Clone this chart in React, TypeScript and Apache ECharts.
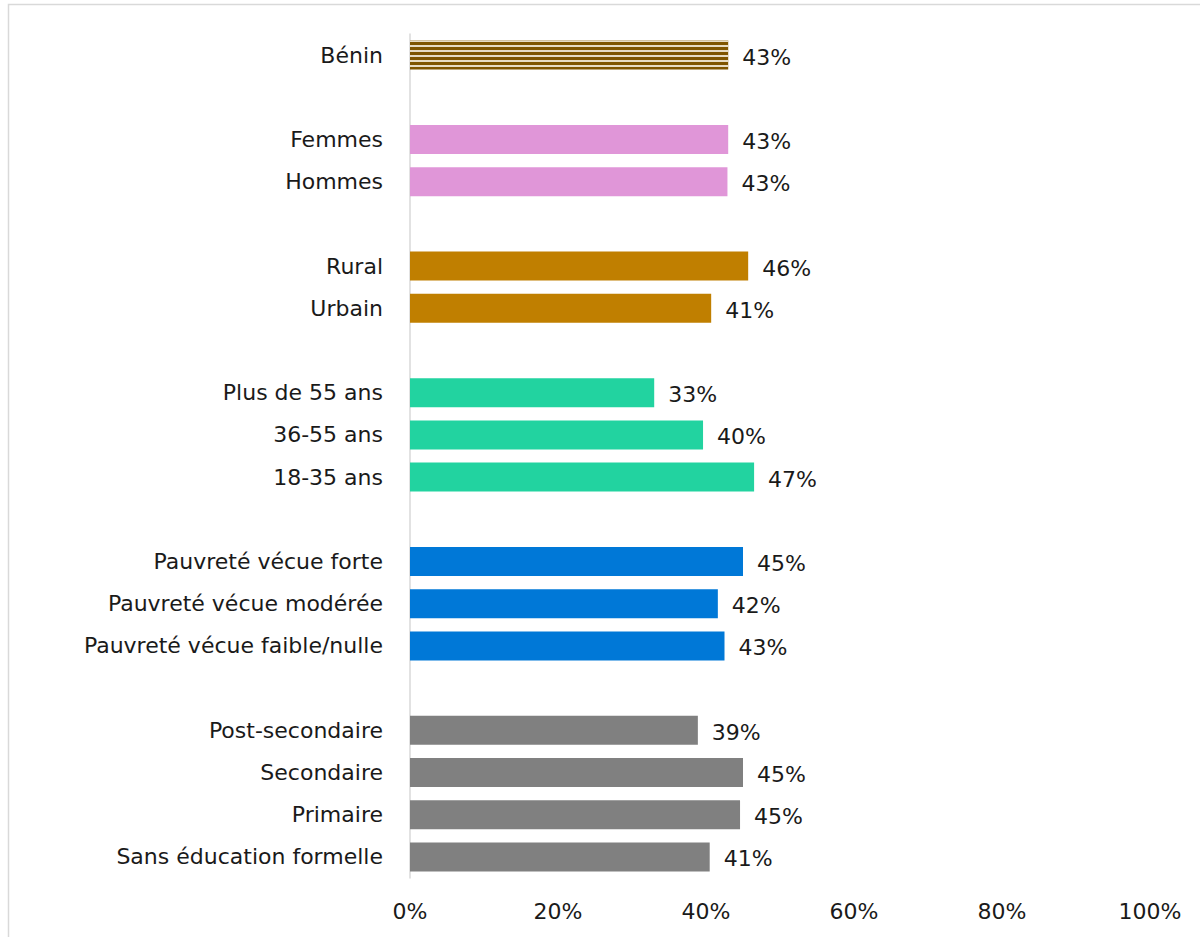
import React, { useEffect, useRef } from "react";
import * as echarts from "echarts";

const categories = [
  "Bénin", "", "Femmes", "Hommes", "", "Rural", "Urbain", "",
  "Plus de 55 ans", "36-55 ans", "18-35 ans", "",
  "Pauvreté vécue forte", "Pauvreté vécue modérée", "Pauvreté vécue faible/nulle", "",
  "Post-secondaire", "Secondaire", "Primaire", "Sans éducation formelle",
];
const values: (number | null)[] = [
  43.0, null, 43.0, 42.9, null, 45.7, 40.7, null,
  33.0, 39.6, 46.5, null,
  45.0, 41.6, 42.5, null,
  38.9, 45.0, 44.6, 40.5,
];
const groupColors = [
  "#7f5500", null, "#e096d8", "#e096d8", null, "#c07f00", "#c07f00", null,
  "#22d3a0", "#22d3a0", "#22d3a0", null,
  "#0078d7", "#0078d7", "#0078d7", null,
  "#808080", "#808080", "#808080", "#808080",
];
const xTicks = [0, 20, 40, 60, 80, 100];

const FONT = "'DejaVu Sans', sans-serif";

export default function App() {
  const ref = useRef<HTMLDivElement>(null);
  useEffect(() => {
    const chart = echarts.init(ref.current!, null, { renderer: "svg" });
    const data = values.map((v, i) => {
      if (v === null) return { value: null };
      const item: any = { value: v, itemStyle: { color: groupColors[i] } };
      if (i === 0) {
        item.itemStyle.decal = {
          symbol: "rect",
          symbolSize: 1,
          dashArrayX: [[1, 0]],
          dashArrayY: [2, 3],
          rotation: 0,
          color: "#e8dcc4",
        };
      }
      return item;
    });
    chart.setOption({
      animation: false,
      backgroundColor: "#ffffff",
      grid: { left: 410, right: 50, top: 34, bottom: 59, containLabel: false },
      graphic: [
        {
          type: "rect",
          shape: { x: 8.5, y: 4.5, width: 1200, height: 940 },
          style: { fill: "none", stroke: "#d9d9d9", lineWidth: 1.5 },
          silent: true,
        },
      ],
      xAxis: {
        type: "value",
        min: 0,
        max: 100,
        interval: 20,
        axisLine: { show: false },
        axisTick: { show: false },
        splitLine: { show: false },
        axisLabel: {
          formatter: (v: number) => (xTicks.includes(v) ? v + "%" : ""),
          fontSize: 22,
          fontFamily: FONT,
          color: "#1a1a1a",
          margin: 22,
        },
      },
      yAxis: {
        type: "category",
        data: categories,
        inverse: true,
        axisLine: { show: true, lineStyle: { color: "#d9d9d9", width: 1.5 } },
        axisTick: { show: false },
        axisLabel: {
          fontSize: 22,
          fontFamily: FONT,
          color: "#1a1a1a",
          margin: 27,
          interval: 0,
        },
      },
      series: [
        {
          type: "bar",
          data,
          barWidth: 29,
          label: {
            show: true,
            position: "right",
            distance: 14,
            fontSize: 22,
            fontFamily: FONT,
            color: "#1a1a1a",
            offset: [0, 2],
            formatter: (p: any) => (p.value == null ? "" : Math.round(p.value) + "%"),
          },
        },
      ],
    });
    return () => chart.dispose();
  }, []);
  return (
    <div
      ref={ref}
      style={{ position: "absolute", left: 0, top: 0, width: 1200, height: 937 }}
    />
  );
}
